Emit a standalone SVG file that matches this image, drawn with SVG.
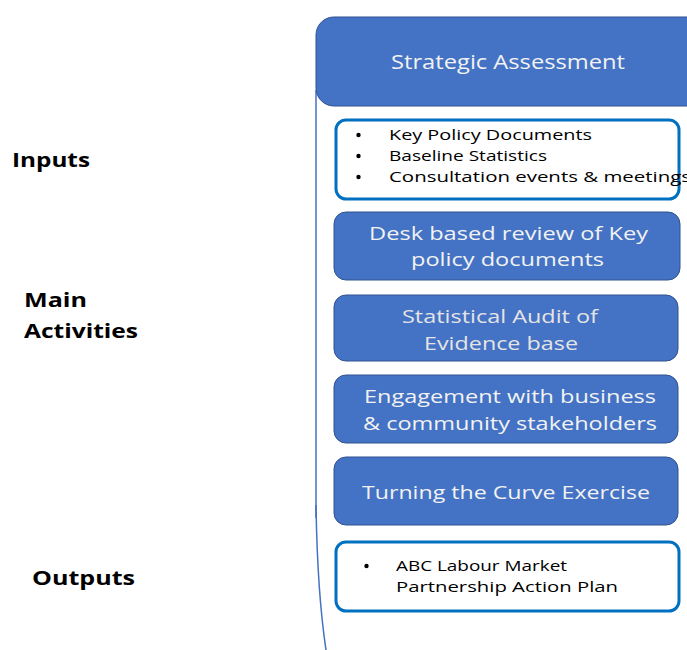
<svg xmlns="http://www.w3.org/2000/svg" width="687" height="650" viewBox="0 0 687 650">
  <style>
    .lbl { font-family: "Open Sans", "Noto Sans", sans-serif; font-weight: bold; font-size: 20px; fill: #000; }
    .act { fill: #4472C4; stroke: #2F528F; stroke-width: 1; }
    .actTxt { font-family: "Open Sans", "Noto Sans", sans-serif; font-size: 19px; fill: #F2F2F2; text-anchor: start; }
    .list { fill: #FFFFFF; stroke: #0070C0; stroke-width: 3; }
    .listTxt { font-family: "Open Sans", "Noto Sans", sans-serif; font-size: 14.5px; fill: #000; }
    .bullet { fill: #000; }
    .frame { fill: none; stroke: #4472C4; stroke-width: 1.5; }
  </style>
  <rect width="687" height="650" fill="#FFFFFF"/>

  <!-- outer frame edge -->
  <g id="connectors">
    <path class="frame" d="M316,90 L316,518"/>
    <path class="frame" d="M316,505 C317,570 320,610 326,650"/>
  </g>

  <!-- row labels -->
  <g id="label-inputs"><text class="lbl" x="12" y="167" textLength="78" lengthAdjust="spacingAndGlyphs">Inputs</text></g>
  <g id="label-activities">
    <text class="lbl" x="24" y="307" textLength="63" lengthAdjust="spacingAndGlyphs">Main</text>
    <text class="lbl" x="24" y="338" textLength="114" lengthAdjust="spacingAndGlyphs">Activities</text>
  </g>
  <g id="label-outputs"><text class="lbl" x="32" y="585" textLength="103" lengthAdjust="spacingAndGlyphs">Outputs</text></g>

  <!-- header -->
  <g id="strategic-assessment">
    <rect class="act" x="316" y="17" width="390" height="89" rx="18"/>
    <text class="actTxt" x="391" y="69" textLength="234" lengthAdjust="spacingAndGlyphs" style="font-size:20px">Strategic Assessment</text>
  </g>

  <!-- inputs list -->
  <g id="inputs">
    <rect class="list" x="336" y="120" width="343" height="79" rx="10"/>
    <circle class="bullet" cx="358.5" cy="135" r="2.2"/>
    <circle class="bullet" cx="358.5" cy="156" r="2.2"/>
    <circle class="bullet" cx="358.5" cy="177" r="2.2"/>
    <text class="listTxt" x="389" y="140" textLength="203" lengthAdjust="spacingAndGlyphs">Key Policy Documents</text>
    <text class="listTxt" x="389" y="161" textLength="158" lengthAdjust="spacingAndGlyphs">Baseline Statistics</text>
    <text class="listTxt" x="389" y="182" textLength="302" lengthAdjust="spacingAndGlyphs">Consultation events &amp; meetings</text>
  </g>

  <!-- main activities -->
  <g id="desk-review">
    <rect class="act" x="334" y="212" width="346" height="68" rx="12"/>
    <text class="actTxt" x="369" y="240" textLength="279" lengthAdjust="spacingAndGlyphs">Desk based review of Key</text>
    <text class="actTxt" x="411" y="266" textLength="193" lengthAdjust="spacingAndGlyphs">policy documents</text>
  </g>
  <g id="statistical-audit">
    <rect class="act" x="334" y="295" width="344" height="66" rx="12"/>
    <text class="actTxt" x="402" y="323" textLength="196" lengthAdjust="spacingAndGlyphs" style="fill:#E4E4E4">Statistical Audit of</text>
    <text class="actTxt" x="424" y="350" textLength="154" lengthAdjust="spacingAndGlyphs" style="fill:#E4E4E4">Evidence base</text>
  </g>
  <g id="engagement">
    <rect class="act" x="334" y="375" width="344" height="68" rx="12"/>
    <text class="actTxt" x="364" y="403" textLength="292" lengthAdjust="spacingAndGlyphs">Engagement with business</text>
    <text class="actTxt" x="363" y="430" textLength="294" lengthAdjust="spacingAndGlyphs">&amp; community stakeholders</text>
  </g>
  <g id="turning-the-curve">
    <rect class="act" x="334" y="457" width="344" height="68" rx="12"/>
    <text class="actTxt" x="362" y="499" textLength="288" lengthAdjust="spacingAndGlyphs">Turning the Curve Exercise</text>
  </g>

  <!-- outputs list -->
  <g id="outputs">
    <rect class="list" x="336" y="542" width="343" height="69" rx="10"/>
    <circle class="bullet" cx="366.5" cy="566" r="2.2"/>
    <text class="listTxt" x="396" y="571" textLength="171" lengthAdjust="spacingAndGlyphs">ABC Labour Market</text>
    <text class="listTxt" x="396" y="592" textLength="222" lengthAdjust="spacingAndGlyphs">Partnership Action Plan</text>
  </g>
</svg>
